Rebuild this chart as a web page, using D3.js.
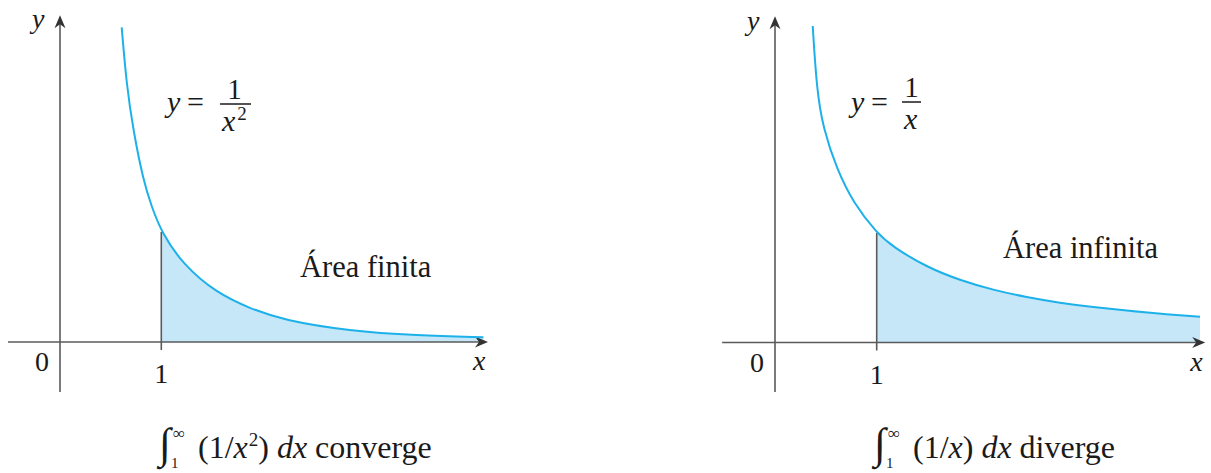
<!DOCTYPE html>
<html>
<head>
<meta charset="utf-8">
<script src="https://cdn.jsdelivr.net/npm/d3@7"></script>
<style>
  html, body { margin: 0; padding: 0; background: #fff; }
  svg { display: block; }
  text { font-family: "Liberation Serif", "Times New Roman", "DejaVu Serif", serif; fill: #1a1a1a; }
</style>
</head>
<body>
<svg id="chart" width="1211" height="473"></svg>
<script>
// ---- Data (x, y in graph units) ----
const leftX  = [0.609, 0.658, 0.724, 0.822, 0.905, 1.0, 1.217, 1.547, 1.876, 2.2, 2.86, 3.52, 4.18];
const leftY  = [2.86, 2.33, 1.92, 1.47, 1.23, 1.0, 0.70, 0.445, 0.305, 0.20, 0.10, 0.06, 0.043];
const rightX = [0.371, 0.41, 0.475, 0.607, 0.77, 1.0, 1.163, 1.492, 1.819, 2.147, 2.475, 2.802, 3.13, 3.458, 3.786, 4.179];
const rightY = [2.89, 2.31, 1.95, 1.585, 1.275, 1.0, 0.871, 0.688, 0.568, 0.479, 0.413, 0.362, 0.323, 0.291, 0.262, 0.235];
const areaStart = 1;            // shaded region starts at x = 1
const tickValues = [0, 1];      // labelled ticks on x axis
const tickLabels = ["0", "1"];
const areaLabels = ["Área finita", "Área infinita"];
const axisNames = ["x", "y"];

const svg = d3.select("#chart");
const defs = svg.append("defs");
const axisColor = "#5a5a5a";
const curveColor = "#1db1ea";
const fillColor = "#c6e7f8";

function arrowHead(g, x, y, dir) {
  const L = 13, W = 5.5, notch = 4;
  let p;
  if (dir === "right") p = [[x, y], [x - L, y - W], [x - L + notch, y], [x - L, y + W]];
  else p = [[x, y], [x - W, y + L], [x, y + L - notch], [x + W, y + L]];
  g.append("path").attr("d", "M" + p.map(d => d.join(",")).join("L") + "Z").attr("fill", "#333");
}

function panel(cfg, id) {
  const g = svg.append("g");
  const xs = d3.scaleLinear().domain([0, 1]).range(cfg.xRange);
  const ys = d3.scaleLinear().domain([0, 1]).range(cfg.yRange);
  const pts = cfg.xs.map((x, i) => [x, cfg.ys[i]]);
  const curve = d3.curveBasis;
  const lastX = pts[pts.length - 1][0];

  defs.append("clipPath").attr("id", "clip" + id)
    .append("rect").attr("x", xs(areaStart)).attr("y", 0)
    .attr("width", xs(lastX) - xs(areaStart) + 1).attr("height", ys(0));

  g.append("path")
    .datum(pts)
    .attr("clip-path", "url(#clip" + id + ")")
    .attr("d", d3.area().x(d => xs(d[0])).y0(ys(0)).y1(d => ys(d[1])).curve(curve))
    .attr("fill", fillColor);

  g.append("line").attr("x1", xs(cfg.xAxis[0])).attr("x2", xs(cfg.xAxis[1]) - 6)
    .attr("y1", ys(0)).attr("y2", ys(0)).attr("stroke", axisColor).attr("stroke-width", 1.6);
  arrowHead(g, xs(cfg.xAxis[1]), ys(0), "right");
  g.append("line").attr("x1", xs(0)).attr("x2", xs(0))
    .attr("y1", ys(cfg.yAxis[0])).attr("y2", ys(cfg.yAxis[1]) + 6).attr("stroke", axisColor).attr("stroke-width", 1.6);
  arrowHead(g, xs(0), ys(cfg.yAxis[1]), "up");

  const y1 = pts.find(d => d[0] === areaStart)[1];
  g.append("line").attr("x1", xs(areaStart)).attr("x2", xs(areaStart))
    .attr("y1", ys(0) + 8).attr("y2", ys(y1)).attr("stroke", axisColor).attr("stroke-width", 1.6);

  g.append("path")
    .datum(pts)
    .attr("d", d3.line().x(d => xs(d[0])).y(d => ys(d[1])).curve(curve))
    .attr("fill", "none").attr("stroke", curveColor).attr("stroke-width", 2);

  g.append("text").attr("x", xs(tickValues[0]) - 18).attr("y", ys(0) + 29)
    .attr("text-anchor", "middle").attr("font-size", 28).text(tickLabels[0]);
  g.append("text").attr("x", xs(tickValues[1])).attr("y", ys(0) + 41)
    .attr("text-anchor", "middle").attr("font-size", 28).text(tickLabels[1]);

  g.append("text").attr("x", xs(cfg.xAxis[1]) - 15).attr("y", ys(0) + 28)
    .attr("font-size", 28).attr("font-style", "italic").text(axisNames[0]);
  g.append("text").attr("x", xs(0) - 28).attr("y", cfg.yLabelY)
    .attr("font-size", 28).attr("font-style", "italic").text(axisNames[1]);

  g.append("text").attr("x", cfg.areaLabel[0]).attr("y", cfg.areaLabel[1])
    .attr("font-size", 30.5).text(cfg.areaText);

  const f = cfg.formula;
  g.append("text").attr("x", f.x).attr("y", 112).attr("font-size", 30).attr("font-style", "italic").text("y");
  g.append("text").attr("x", f.x + 20).attr("y", 112).attr("font-size", 30).text("=");
  g.append("line").attr("x1", f.barX0).attr("x2", f.barX1).attr("y1", f.barY).attr("y2", f.barY)
    .attr("stroke", "#1a1a1a").attr("stroke-width", 1.5);
  g.append("text").attr("x", (f.barX0 + f.barX1) / 2 + f.oneShift).attr("y", f.barY - 5).attr("text-anchor", "middle")
    .attr("font-size", 29).text("1");
  const den = g.append("text").attr("x", f.denX).attr("y", f.barY + 27).attr("font-size", 30);
  den.append("tspan").attr("font-style", "italic").text("x");
  if (f.power) den.append("tspan").attr("font-size", 19).attr("dy", -11).attr("dx", 2).text(f.power);

  const c = cfg.caption;
  g.append("text").attr("x", c.x).attr("y", 458).attr("font-size", 43).text("∫");
  g.append("text").attr("x", c.x + 14).attr("y", 439).attr("font-size", 17).text("∞");
  g.append("text").attr("x", c.x + 12).attr("y", 468).attr("font-size", 15).text("1");
  const t = g.append("text").attr("x", c.x + 39).attr("y", 458).attr("font-size", 32);
  t.append("tspan").text("(1/");
  t.append("tspan").attr("font-style", "italic").text("x");
  if (c.power) {
    t.append("tspan").attr("font-size", 19).attr("dy", -12).attr("dx", 1).text(c.power);
    t.append("tspan").attr("dy", 12).text(") ");
  } else {
    t.append("tspan").text(") ");
  }
  t.append("tspan").attr("font-style", "italic").text("dx");
  t.append("tspan").text(" " + c.word);
}

panel({
  xRange: [60, 161.3], yRange: [342, 232],
  xs: leftX, ys: leftY,
  xAxis: [-0.513, 4.225], yAxis: [-0.455, 2.97],
  yLabelY: 28,
  areaLabel: [300, 277], areaText: areaLabels[0],
  formula: { x: 167, barX0: 220, barX1: 251, barY: 104, denX: 222, power: "2", oneShift: -1 },
  caption: { x: 159, power: "2", word: "converge" }
}, "L");

panel({
  xRange: [775, 876.7], yRange: [342.5, 233],
  xs: rightX, ys: rightY,
  xAxis: [-0.52, 4.23], yAxis: [-0.452, 2.98],
  yLabelY: 30,
  areaLabel: [1003, 258], areaText: areaLabels[1],
  formula: { x: 851, barX0: 902, barX1: 921, barY: 102, denX: 904, power: null, oneShift: 0 },
  caption: { x: 874, power: null, word: "diverge" }
}, "R");
</script>
</body>
</html>
